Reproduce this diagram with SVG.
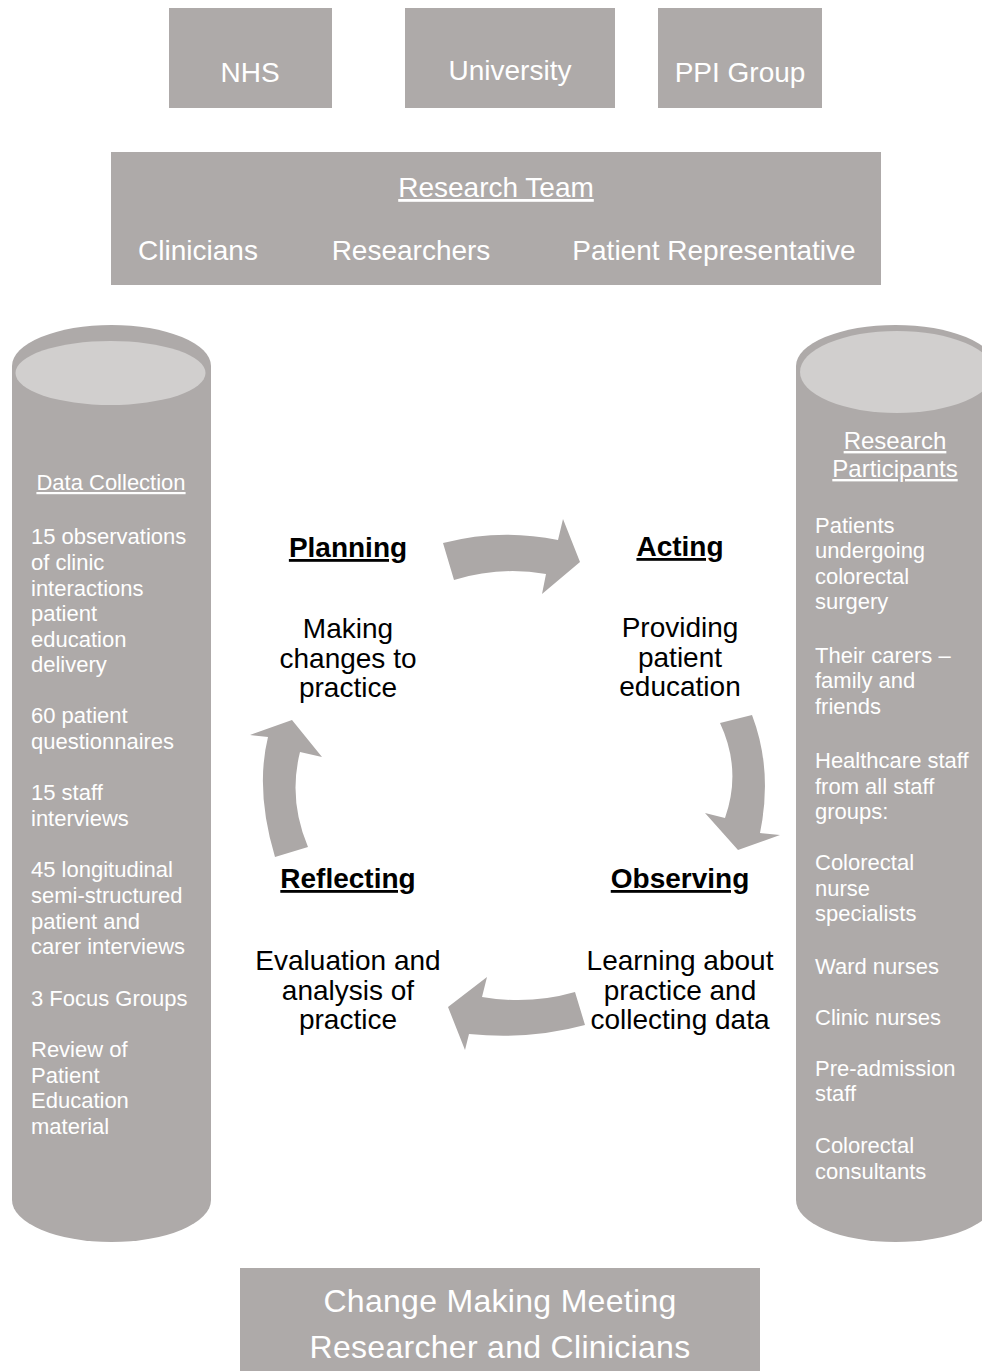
<svg xmlns="http://www.w3.org/2000/svg" width="982" height="1371" viewBox="0 0 982 1371">
<style>
.box{fill:#aeaaa9}
.top{fill:#d1cfce}
.arr{fill:#aca8a7}
.w{fill:#ffffff;font-family:"Liberation Sans",Arial,sans-serif}
.k{fill:#000000;font-family:"Liberation Sans",Arial,sans-serif;font-size:28px;text-anchor:middle}
.h{font-weight:bold;text-decoration:underline}
.u{text-decoration:underline}
.c{text-anchor:middle}
.s22{font-size:22px}
.s28{font-size:28px}
</style>
<rect width="982" height="1371" fill="#ffffff"/>
<g id="nhs"><rect class="box" x="169" y="8" width="163" height="100"/><text class="w s28 c" x="250" y="82">NHS</text></g>
<g id="university"><rect class="box" x="405" y="8" width="210" height="100"/><text class="w s28 c" x="510" y="80">University</text></g>
<g id="ppi"><rect class="box" x="658" y="8" width="164" height="100"/><text class="w s28 c" x="740" y="82">PPI Group</text></g>
<g id="research-team"><rect class="box" x="111" y="152" width="770" height="133"/>
<text class="w s28 c u" x="496" y="197">Research Team</text>
<text class="w s28 c" x="198" y="260">Clinicians</text>
<text class="w s28 c" x="411" y="260">Researchers</text>
<text class="w s28 c" x="714" y="260">Patient Representative</text></g>
<g id="data-collection">
<path class="box" d="M12,366 A99.5,41 0 0 1 211,366 L211,1200 A99.5,42 0 0 1 12,1200 Z"/>
<ellipse class="top" cx="110.5" cy="373" rx="95" ry="32"/>
<text class="w s22 c u" x="111" y="490">Data Collection</text>
<text class="w s22" x="31" y="544">15 observations</text>
<text class="w s22" x="31" y="570">of clinic</text>
<text class="w s22" x="31" y="596">interactions</text>
<text class="w s22" x="31" y="621">patient</text>
<text class="w s22" x="31" y="647">education</text>
<text class="w s22" x="31" y="672">delivery</text>
<text class="w s22" x="31" y="723">60 patient</text>
<text class="w s22" x="31" y="749">questionnaires</text>
<text class="w s22" x="31" y="800">15 staff</text>
<text class="w s22" x="31" y="826">interviews</text>
<text class="w s22" x="31" y="877">45 longitudinal</text>
<text class="w s22" x="31" y="903">semi-structured</text>
<text class="w s22" x="31" y="929">patient and</text>
<text class="w s22" x="31" y="954">carer interviews</text>
<text class="w s22" x="31" y="1006">3 Focus Groups</text>
<text class="w s22" x="31" y="1057">Review of</text>
<text class="w s22" x="31" y="1083">Patient</text>
<text class="w s22" x="31" y="1108">Education</text>
<text class="w s22" x="31" y="1134">material</text>
</g>
<g id="research-participants">
<path class="box" d="M796,366 A99.5,41 0 0 1 995,366 L995,1200 A99.5,42 0 0 1 796,1200 Z"/>
<ellipse class="top" cx="897" cy="372" rx="97" ry="41"/>
<text class="w c u" font-size="24" x="895" y="449">Research</text>
<text class="w c u" font-size="24" x="895" y="477">Participants</text>
<text class="w s22" x="815" y="533">Patients</text>
<text class="w s22" x="815" y="558">undergoing</text>
<text class="w s22" x="815" y="584">colorectal</text>
<text class="w s22" x="815" y="609">surgery</text>
<text class="w s22" x="815" y="663">Their carers –</text>
<text class="w s22" x="815" y="688">family and</text>
<text class="w s22" x="815" y="714">friends</text>
<text class="w s22" x="815" y="768">Healthcare staff</text>
<text class="w s22" x="815" y="794">from all staff</text>
<text class="w s22" x="815" y="819">groups:</text>
<text class="w s22" x="815" y="870">Colorectal</text>
<text class="w s22" x="815" y="896">nurse</text>
<text class="w s22" x="815" y="921">specialists</text>
<text class="w s22" x="815" y="974">Ward nurses</text>
<text class="w s22" x="815" y="1025">Clinic nurses</text>
<text class="w s22" x="815" y="1076">Pre-admission</text>
<text class="w s22" x="815" y="1101">staff</text>
<text class="w s22" x="815" y="1153">Colorectal</text>
<text class="w s22" x="815" y="1179">consultants</text>
</g>
<g id="planning"><text class="k h" x="348" y="557">Planning</text>
<text class="k" x="348" y="638">Making</text><text class="k" x="348" y="668">changes to</text><text class="k" x="348" y="697">practice</text></g>
<g id="acting"><text class="k h" x="680" y="556">Acting</text>
<text class="k" x="680" y="637">Providing</text><text class="k" x="680" y="667">patient</text><text class="k" x="680" y="696">education</text></g>
<g id="reflecting"><text class="k h" x="348" y="888">Reflecting</text>
<text class="k" x="348" y="970">Evaluation and</text><text class="k" x="348" y="1000">analysis of</text><text class="k" x="348" y="1029">practice</text></g>
<g id="observing"><text class="k h" x="680" y="888">Observing</text>
<text class="k" x="680" y="970">Learning about</text><text class="k" x="680" y="1000">practice and</text><text class="k" x="680" y="1029">collecting data</text></g>
<g id="connectors">
<path class="arr" d="M443,543 Q500,528 558,540 L563,519 L580,562 L542,594 L546,574 Q500,566 454,580 Z"/>
<path class="arr" d="M720,723 Q742,770 725,818 L705,813 L738,850 L780,835 L760,833 Q773,770 752,715 Z"/>
<path class="arr" d="M585,1025 Q530,1040 469,1034 L465,1050 L448,1007 L487,977 L482,997 Q530,1005 575,992 Z"/>
<path class="arr" d="M275,857 Q255,790 268,737 L250,735 L292,720 L322,757 L300,752 Q288,800 308,847 Z"/>
</g>
<g id="change-meeting"><rect class="box" x="240" y="1268" width="520" height="110"/>
<text class="w c" font-size="32" letter-spacing="0.3" x="500" y="1312">Change Making Meeting</text>
<text class="w c" font-size="32" letter-spacing="0.3" x="500" y="1358">Researcher and Clinicians</text></g>
</svg>
